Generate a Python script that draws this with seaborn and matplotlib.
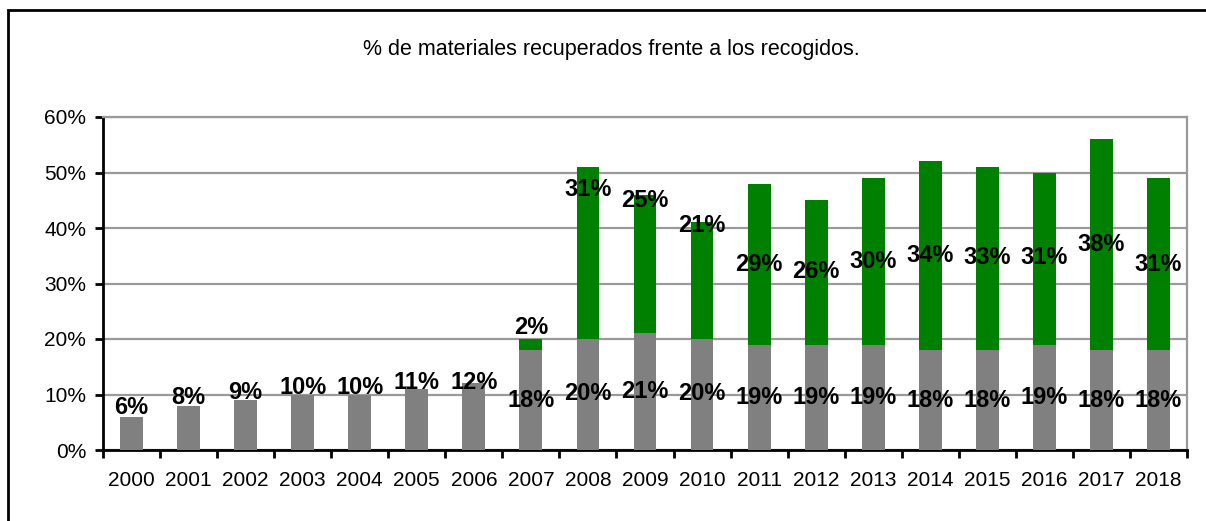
import numpy as np
import pandas as pd
import seaborn as sns
import matplotlib.pyplot as plt
from matplotlib.patches import Rectangle

# datos
years = ['2000', '2001', '2002', '2003', '2004', '2005', '2006', '2007', '2008', '2009',
         '2010', '2011', '2012', '2013', '2014', '2015', '2016', '2017', '2018']
gray_vals = [6, 8, 9, 10, 10, 11, 12, 18, 20, 21, 20, 19, 19, 19, 18, 18, 19, 18, 18]
green_vals = [0, 0, 0, 0, 0, 0, 0, 2, 31, 25, 21, 29, 26, 30, 34, 33, 31, 38, 31]

# posicion (en %) de las etiquetas
gray_lab_y = [7.6, 9.4, 10.3, 11.2, 11.2, 12.1, 12.1, 9.0, 10.1, 10.6,
              10.1, 9.5, 9.5, 9.5, 9.0, 9.0, 9.5, 9.0, 9.0]
green_lab_y = [None, None, None, None, None, None, None, 22.1, 46.9, 44.9,
               40.5, 33.5, 32.1, 33.9, 35.1, 34.6, 34.6, 37.1, 33.5]

df = pd.DataFrame({'year': years, 'gray': gray_vals, 'green': green_vals})
df['total'] = df['gray'] + df['green']

sns.set_style('white')
plt.rcParams['font.family'] = ['Liberation Sans', 'DejaVu Sans']
plt.rcParams['text.color'] = 'black'
plt.rcParams['xtick.color'] = 'black'
plt.rcParams['ytick.color'] = 'black'

fig = plt.figure(figsize=(12.06, 5.21), dpi=100)
ax = fig.add_axes([103 / 1206, 1 - 450 / 521, (1187 - 103) / 1206, (450 - 117) / 521])

# barras apiladas: total en verde y encima la parte gris
sns.barplot(data=df, x='year', y='total', color='#008000', saturation=1, width=0.4,
            linewidth=0, ax=ax, zorder=3)
sns.barplot(data=df, x='year', y='gray', color='#808080', saturation=1, width=0.4,
            linewidth=0, ax=ax, zorder=3)

ax.set_ylim(0, 60)
ax.set_xlim(-0.5, len(years) - 0.5)
ax.set_yticks(np.arange(0, 61, 10))
ax.set_yticklabels([f'{v}%' for v in range(0, 61, 10)], fontsize=15)
ax.yaxis.grid(True, color='#9a9a9a', linewidth=1.6, zorder=0)
ax.set_axisbelow(True)

ax.set_xticks(np.arange(-0.5, len(years), 1))
ax.set_xticklabels([])
ax.set_xticks(np.arange(len(years)), minor=True)
ax.set_xticklabels(years, minor=True, fontsize=15)
ax.tick_params(axis='x', which='major', direction='out', length=6, width=2, color='black', bottom=True)
ax.tick_params(axis='x', which='minor', length=0, pad=15)
ax.tick_params(axis='y', direction='out', length=6, width=2, color='black', left=True, pad=6)
ax.set_xlabel('')
ax.set_ylabel('')

for s in ['left', 'bottom']:
    ax.spines[s].set_color('black')
    ax.spines[s].set_linewidth(2)
for s in ['top', 'right']:
    ax.spines[s].set_color('#9a9a9a')
    ax.spines[s].set_linewidth(1.6)
    ax.spines[s].set_visible(True)

# etiquetas de valores
for i in range(len(years)):
    ax.text(i, gray_lab_y[i], f'{gray_vals[i]}%', ha='center', va='center',
            fontsize=17, fontweight='bold', zorder=5)
    if green_lab_y[i] is not None:
        ax.text(i, green_lab_y[i], f'{green_vals[i]}%', ha='center', va='center',
                fontsize=17, fontweight='bold', zorder=5)

fig.text(0.507, 1 - 50 / 521, '% de materiales recuperados frente a los recogidos.',
         ha='center', va='center', fontsize=15.5)

# marco exterior
fig.patches.append(Rectangle((8 / 1206, -0.05), 1.1, 1 - 10 / 521 + 0.05, transform=fig.transFigure,
                             fill=False, edgecolor='black', linewidth=2))

fig.savefig('out.png', dpi=100)
